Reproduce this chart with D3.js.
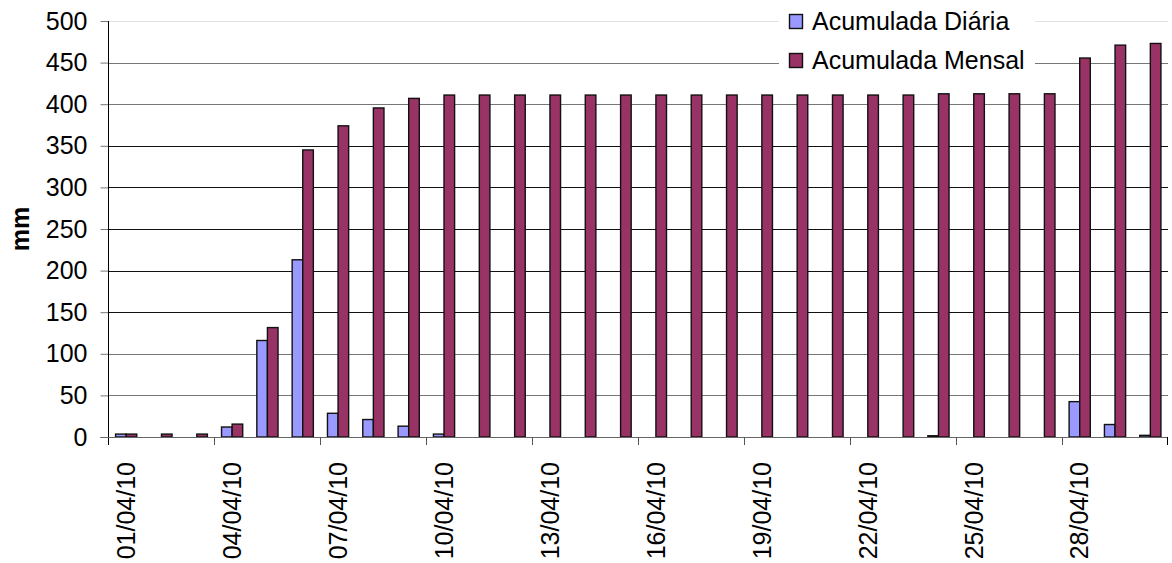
<!DOCTYPE html>
<html>
<head>
<meta charset="utf-8">
<script src="https://cdn.jsdelivr.net/npm/d3@7"></script>
<style>
  html, body { margin: 0; padding: 0; background: #fff; }
  svg { display: block; font-family: "Liberation Sans", Arial, sans-serif; }
</style>
</head>
<body>
<svg id="chart" width="1172" height="563"></svg>
<script>
// Precipitação de abril/2010 (mm)
const days = ["01/04/10","02/04/10","03/04/10","04/04/10","05/04/10","06/04/10","07/04/10","08/04/10","09/04/10","10/04/10",
              "11/04/10","12/04/10","13/04/10","14/04/10","15/04/10","16/04/10","17/04/10","18/04/10","19/04/10","20/04/10",
              "21/04/10","22/04/10","23/04/10","24/04/10","25/04/10","26/04/10","27/04/10","28/04/10","29/04/10","30/04/10"];
const dailyValues = [3.5, 0, 0, 12, 116, 213, 28.5, 21, 13, 3.5,
                     0, 0, 0, 0, 0, 0, 0, 0, 0, 0,
                     0, 0, 0, 1.5, 0, 0, 0, 42.5, 15, 2];
const monthlyValues = [3.5, 3.5, 3.5, 15.5, 131.5, 345, 374, 395.5, 407, 411,
                       411, 411, 411, 411, 411, 411, 411, 411, 411, 411,
                       411, 411, 411, 412.5, 412.5, 412.5, 412.5, 455.5, 471, 473];
const seriesNames = ["Acumulada Diária", "Acumulada Mensal"];
const seriesColors = ["#9999FF", "#993366"];
const yTicks = [0, 50, 100, 150, 200, 250, 300, 350, 400, 450, 500];
const labelEvery = 3;

const svg = d3.select("#chart");
const plotLeft = 108.5, plotRight = 1168, plotTop = 21, plotBottom = 437;
const fontSize = 25;

const x = d3.scaleBand().domain(days).range([plotLeft, plotRight]).paddingInner(0.4).paddingOuter(0.2);
const xs = d3.scaleBand().domain([0, 1]).range([0, x.bandwidth()]);
const y = d3.scaleLinear().domain([0, 500]).range([plotBottom, plotTop]);

// grid lines
svg.append("g")
  .selectAll("line")
  .data(yTicks.filter(v => v > 0))
  .join("line")
  .attr("x1", plotLeft).attr("x2", plotRight)
  .attr("y1", d => Math.round(y(d)) + 0.5).attr("y2", d => Math.round(y(d)) + 0.5)
  .attr("stroke", d => d === 500 ? "#e2e2e2" : (d >= 400 || d <= 100 ? "#777" : "#111"))
  .attr("stroke-width", 1);

// bars
const rows = days.map((d, i) => ({ day: d, vals: [dailyValues[i], monthlyValues[i]] }));
const groups = svg.append("g").selectAll("g")
  .data(rows).join("g")
  .attr("transform", d => `translate(${x(d.day)},0)`);
groups.selectAll("rect")
  .data(d => d.vals.map((v, k) => ({ v, k })))
  .join("rect")
  .attr("x", d => xs(d.k))
  .attr("width", xs.bandwidth())
  .attr("y", d => y(d.v))
  .attr("height", d => y(0) - y(d.v))
  .attr("fill", d => seriesColors[d.k])
  .attr("stroke", "#111")
  .attr("stroke-width", 1.4);

// y axis
const yAxis = svg.append("g")
  .attr("transform", `translate(${plotLeft},0)`)
  .call(d3.axisLeft(y).tickValues(yTicks).tickSize(8).tickPadding(13));
yAxis.select(".domain").remove();
yAxis.selectAll(".tick line").attr("stroke", "#777");
yAxis.selectAll(".tick text")
  .attr("font-size", fontSize).attr("font-family", "Liberation Sans, Arial, sans-serif")
  .attr("fill", "#000");
svg.append("line")
  .attr("x1", plotLeft).attr("x2", plotLeft).attr("y1", plotTop).attr("y2", plotBottom + 8)
  .attr("stroke", "#000").attr("stroke-width", 1);

// x axis baseline and boundary ticks
svg.append("line")
  .attr("x1", plotLeft - 8).attr("x2", plotRight)
  .attr("y1", Math.round(y(0)) + 0.5).attr("y2", Math.round(y(0)) + 0.5)
  .attr("stroke", "#666").attr("stroke-width", 1);
const tickDays = days.filter((d, i) => i % labelEvery === 0);
const boundary = d => x(d) - x.step() * x.paddingInner() / 2;
svg.append("g").selectAll("line")
  .data(tickDays.slice(1))
  .join("line")
  .attr("x1", d => Math.round(boundary(d)) + 0.5).attr("x2", d => Math.round(boundary(d)) + 0.5)
  .attr("y1", plotBottom).attr("y2", plotBottom + 8)
  .attr("stroke", "#555");
svg.append("line")
  .attr("x1", plotRight - 0.5).attr("x2", plotRight - 0.5).attr("y1", plotBottom).attr("y2", plotBottom + 8)
  .attr("stroke", "#000");

// x labels, rotated
const xAxis = svg.append("g")
  .attr("transform", `translate(0,${plotBottom})`)
  .call(d3.axisBottom(x).tickValues(tickDays).tickSize(0).tickPadding(0));
xAxis.select(".domain").remove();
xAxis.selectAll(".tick text")
  .attr("font-size", fontSize).attr("font-family", "Liberation Sans, Arial, sans-serif")
  .attr("fill", "#000")
  .attr("text-anchor", "end")
  .attr("transform", "translate(0,25) rotate(-90)")
  .attr("x", 0).attr("y", 0).attr("dy", "0.35em");

// y axis title
svg.append("text")
  .attr("transform", `translate(20,${(plotTop + plotBottom) / 2}) rotate(-90)`)
  .attr("text-anchor", "middle").attr("dy", "0.35em")
  .attr("font-size", fontSize).attr("font-weight", "bold")
  .text("mm");

// legend
const legend = svg.append("g");
legend.append("rect").attr("x", 779).attr("y", 0).attr("width", 256).attr("height", 82).attr("fill", "#fff");
seriesNames.forEach((name, k) => {
  const cy = 21.5 + k * 39;
  legend.append("rect")
    .attr("x", 789.5).attr("y", cy - 7).attr("width", 13).attr("height", 14)
    .attr("fill", seriesColors[k]).attr("stroke", "#111").attr("stroke-width", 1.4);
  legend.append("text")
    .attr("x", 812).attr("y", cy + 8.5)
    .attr("font-size", fontSize)
    .text(name);
});
</script>
</body>
</html>
